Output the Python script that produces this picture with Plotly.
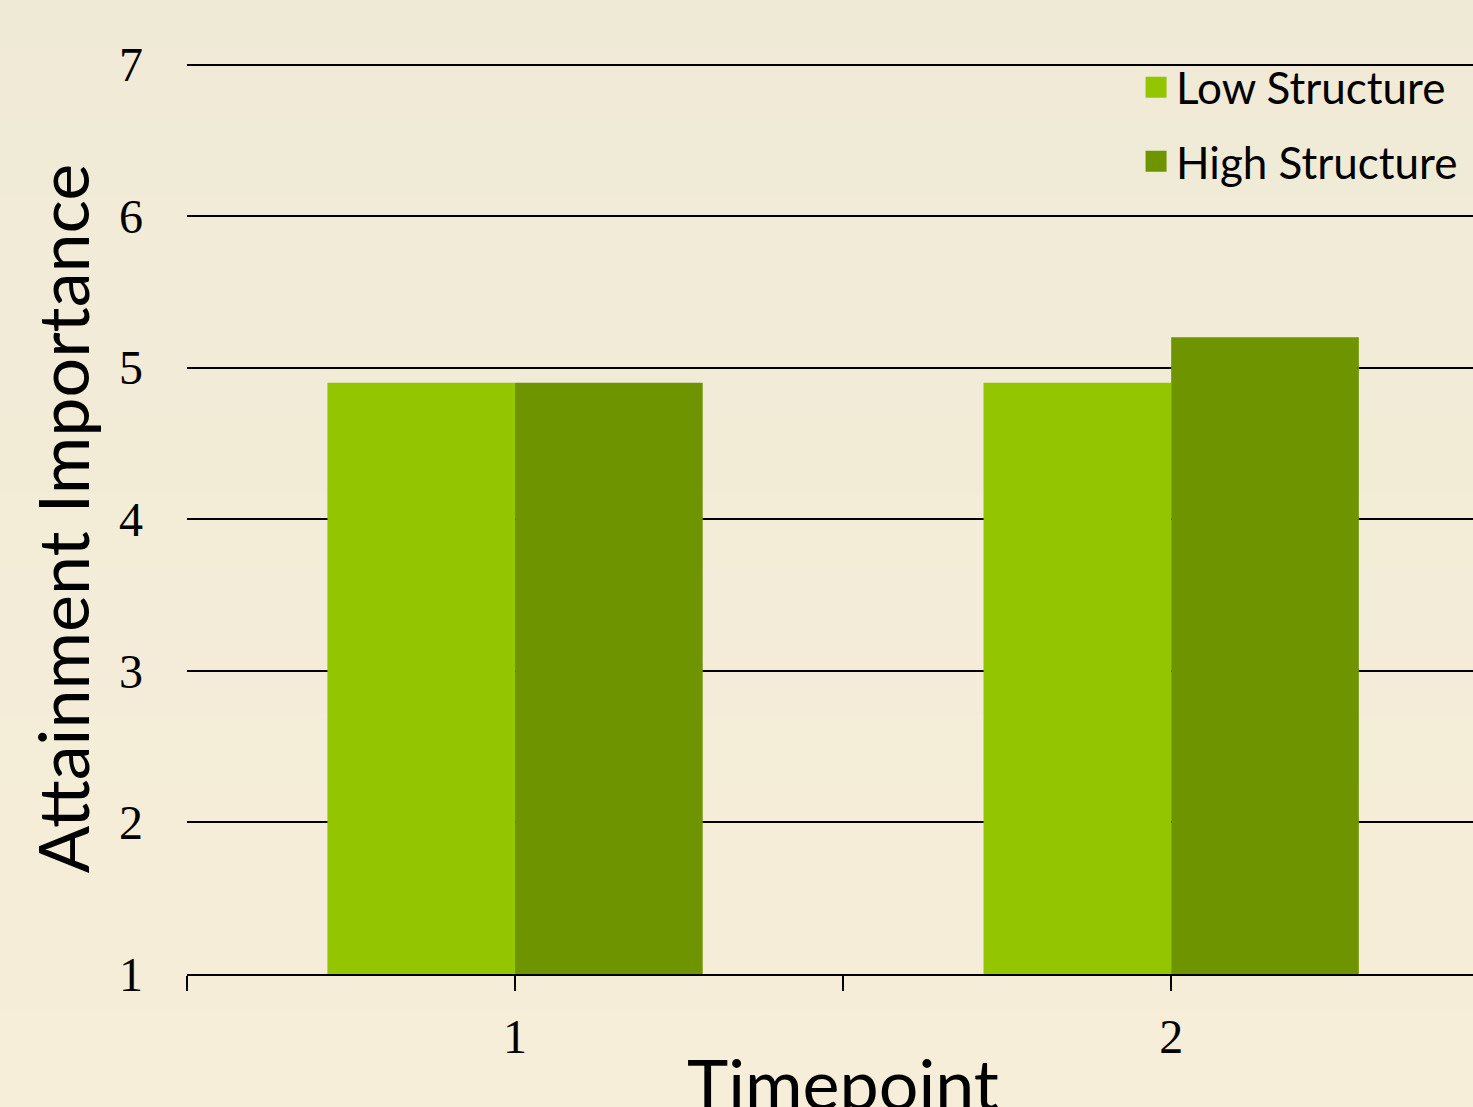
import base64
import struct
import zlib

import plotly.graph_objects as go

timepoints = [1, 2]
low_structure = [4.9, 4.9]
high_structure = [4.9, 5.2]
y_ticks = [1, 2, 3, 4, 5, 6, 7]
axis_floor = 1

LOW_COLOR = "#93C500"
HIGH_COLOR = "#6E9400"
BG_TOP = (239, 234, 214)
BG_BOTTOM = (247, 238, 217)


def gradient_png(top, bottom, n=256):
    raw = b""
    for i in range(n):
        t = i / (n - 1)
        px = bytes(round(top[k] + (bottom[k] - top[k]) * t) for k in range(3))
        raw += b"\x00" + px

    def chunk(tag, data):
        c = struct.pack(">I", len(data)) + tag + data
        return c + struct.pack(">I", zlib.crc32(tag + data) & 0xFFFFFFFF)

    png = b"\x89PNG\r\n\x1a\n"
    png += chunk(b"IHDR", struct.pack(">IIBBBBB", 1, n, 8, 2, 0, 0, 0))
    png += chunk(b"IDAT", zlib.compress(raw))
    png += chunk(b"IEND", b"")
    return "data:image/png;base64," + base64.b64encode(png).decode()


fig = go.Figure()
fig.add_trace(go.Bar(x=timepoints, y=[v - axis_floor for v in low_structure],
                     base=axis_floor, name="Low Structure", showlegend=False,
                     marker=dict(color=LOW_COLOR, line=dict(width=0))))
fig.add_trace(go.Bar(x=timepoints, y=[v - axis_floor for v in high_structure],
                     base=axis_floor, name="High Structure", showlegend=False,
                     marker=dict(color=HIGH_COLOR, line=dict(width=0))))
# legend entries with larger square swatches
for name, color, grp in [("Low Structure", LOW_COLOR, "a"), ("High Structure", HIGH_COLOR, "b")]:
    fig.add_trace(go.Scatter(x=[None], y=[None], mode="markers", name=name,
                             legendgroup=grp,
                             marker=dict(symbol="square", size=16, color=color,
                                         line=dict(color=color, width=5))))

fig.update_layout(
    width=1473, height=1107,
    margin=dict(l=187, r=0, t=63, b=133),
    paper_bgcolor="#F3ECD8",
    plot_bgcolor="rgba(0,0,0,0)",
    images=[dict(source=gradient_png(BG_TOP, BG_BOTTOM), xref="paper", yref="paper",
                 x=-0.2, y=1.1, sizex=1.2, sizey=1.3, xanchor="left", yanchor="top",
                 sizing="stretch", layer="below")],
    barmode="group",
    bargap=0.428,
    bargroupgap=0,
    showlegend=True,
    legend=dict(x=0.738, y=1.012, xanchor="left", yanchor="top",
                font=dict(family="Lato", size=44, color="#000000"),
                bgcolor="rgba(0,0,0,0)", tracegroupgap=14,
                itemwidth=30),
    xaxis=dict(range=[0.5, 2.46], tickvals=[0.5, 1, 1.5, 2],
               ticktext=["", "1", "", "2"],
               ticks="outside", ticklen=15, tickwidth=2, tickcolor="#000000",
               showline=True, linecolor="#000000", linewidth=2,
               showgrid=False, zeroline=False, ticklabelstandoff=4,
               tickfont=dict(family="Liberation Serif", size=48, color="#000000")),
    yaxis=dict(range=[1, 7.01], tickvals=y_ticks,
               showgrid=True, gridcolor="#000000", gridwidth=2,
               showline=False, zeroline=False, ticks="",
               ticklabelstandoff=43,
               tickfont=dict(family="Liberation Serif", size=48, color="#000000"),
               title=dict(text="Attainment Importance", standoff=6,
                          font=dict(family="Lato", size=70, color="#000000"))),
    annotations=[dict(text="Timepoint", x=1.5, xref="x", y=-0.071, yref="paper",
                      yanchor="top", showarrow=False,
                      font=dict(family="Lato", size=70, color="#000000"))],
)

fig.write_html("out.html", config={"displayModeBar": False}, post_script=(
    "document.body.style.margin='0';"
    "document.body.style.overflow='hidden';"
    "document.body.style.background='#F3ECD8';"))
